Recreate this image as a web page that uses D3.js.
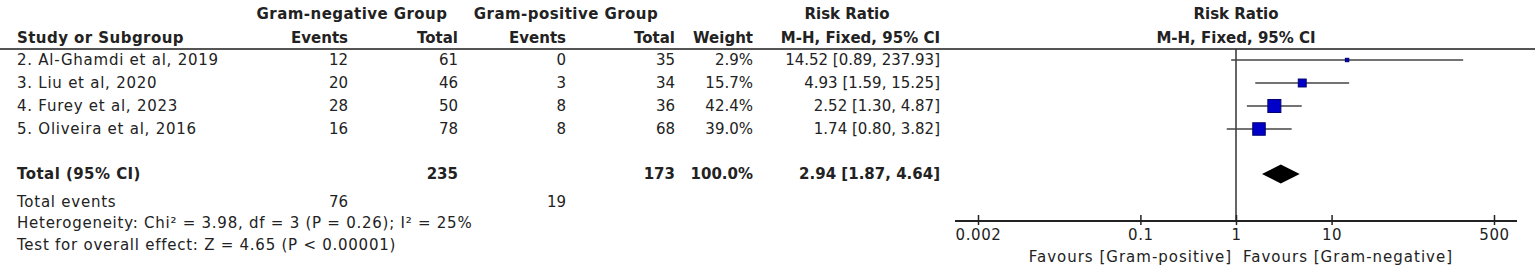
<!DOCTYPE html>
<html>
<head>
<meta charset="utf-8"/>
<title>Forest plot - Gram-negative vs Gram-positive</title>
<script src="https://d3js.org/d3.v7.min.js"></script>
<style>
	body { margin: 0; background: #fff; }
	text { font-family: "DejaVu Sans", Verdana, sans-serif; font-size: 15px; fill: #222; }
	.bold { font-weight: bold; }
	.wide { letter-spacing: 0.75px; }
	.bold.wide { letter-spacing: 0.45px; }
	.fav { letter-spacing: 1px; }
	.tick text { font-size: 15px; letter-spacing: 0.6px; }
</style>
</head>
<body>
<svg width="1535" height="268"></svg>
<script>
// study data
const studies = ["2. Al-Ghamdi et al, 2019", "3. Liu et al, 2020", "4. Furey et al, 2023", "5. Oliveira et al, 2016"];
const negEvents = [12, 20, 28, 16];
const negTotal = [61, 46, 50, 78];
const posEvents = [0, 3, 8, 8];
const posTotal = [35, 34, 36, 68];
const weights = [2.9, 15.7, 42.4, 39.0];
const rr = [14.52, 4.93, 2.52, 1.74];
const rrLow = [0.89, 1.59, 1.30, 0.80];
const rrHigh = [237.93, 15.25, 4.87, 3.82];

const pooled = {rr: 2.94, low: 1.87, high: 4.64, negTotal: 235, posTotal: 173, weight: 100.0, negEvents: 76, posEvents: 19};
const tickValues = [0.002, 0.1, 1, 10, 500];
const heterogeneity = "Heterogeneity: Chi² = 3.98, df = 3 (P = 0.26); I² = 25%";
const overall = "Test for overall effect: Z = 4.65 (P < 0.00001)";

const svg = d3.select("svg");
const fmt = d3.format(".2f");
const ciText = (m, l, h) => `${fmt(m)} [${fmt(l)}, ${fmt(h)}]`;

const x = d3.scaleLog().domain([0.002, 500]).range([978, 1494]);
const y = d3.scaleLinear().domain([0, studies.length - 1]).range([60, 129]);
const yTotal = 174, yEvents = 202, yHet = 223, yTest = 245, yAxis = 221;
const yHead1 = 14, yHead2 = 38, yRule = 49;

// column right edges (table)
const col = {name: 17, negE: 348, negT: 458, posE: 566, posT: 675, w: 753, ci: 940};

function txt(xp, yp, s, anchor, cls) {
	return svg.append("text")
		.attr("x", xp).attr("y", yp).attr("dy", "0.35em")
		.attr("text-anchor", anchor || "start")
		.attr("class", cls || null)
		.text(s);
}

// headers
txt(352, yHead1, "Gram-negative Group", "middle", "bold wide");
txt(566, yHead1, "Gram-positive Group", "middle", "bold wide");
txt(847, yHead1, "Risk Ratio", "middle", "bold");
txt(x(1), yHead1, "Risk Ratio", "middle", "bold");
txt(col.name, yHead2, "Study or Subgroup", "start", "bold wide");
txt(col.negE, yHead2, "Events", "end", "bold");
txt(col.negT, yHead2, "Total", "end", "bold");
txt(col.posE, yHead2, "Events", "end", "bold");
txt(col.posT, yHead2, "Total", "end", "bold");
txt(col.w, yHead2, "Weight", "end", "bold");
txt(col.ci, yHead2, "M-H, Fixed, 95% CI", "end", "bold");
txt(x(1), yHead2, "M-H, Fixed, 95% CI", "middle", "bold");

svg.append("line")
	.attr("x1", 0).attr("x2", 1535).attr("y1", yRule).attr("y2", yRule)
	.attr("stroke", "#555").attr("stroke-width", 2);

// study rows
studies.forEach((s, i) => {
	const yy = y(i);
	txt(col.name, yy, s, "start", "wide");
	txt(col.negE, yy, negEvents[i], "end");
	txt(col.negT, yy, negTotal[i], "end");
	txt(col.posE, yy, posEvents[i], "end");
	txt(col.posT, yy, posTotal[i], "end");
	txt(col.w, yy, weights[i].toFixed(1) + "%", "end");
	txt(col.ci, yy, ciText(rr[i], rrLow[i], rrHigh[i]), "end");
});

// totals
txt(col.name, yTotal, "Total (95% CI)", "start", "bold wide");
txt(col.negT, yTotal, pooled.negTotal, "end", "bold");
txt(col.posT, yTotal, pooled.posTotal, "end", "bold");
txt(col.w, yTotal, pooled.weight.toFixed(1) + "%", "end", "bold");
txt(col.ci, yTotal, ciText(pooled.rr, pooled.low, pooled.high), "end", "bold");
txt(col.name, yEvents, "Total events", "start", "wide");
txt(col.negE, yEvents, pooled.negEvents, "end");
txt(col.posE, yEvents, pooled.posEvents, "end");
txt(col.name, yHet, heterogeneity, "start", "wide");
txt(col.name, yTest, overall, "start", "wide");

// forest plot
const plot = svg.append("g");

plot.append("line")
	.attr("x1", x(1)).attr("x2", x(1)).attr("y1", yRule).attr("y2", yAxis)
	.attr("stroke", "#333").attr("stroke-width", 1.5);

plot.selectAll(".ci").data(studies).enter().append("line")
	.attr("class", "ci")
	.attr("x1", (d, i) => x(rrLow[i])).attr("x2", (d, i) => x(rrHigh[i]))
	.attr("y1", (d, i) => y(i)).attr("y2", (d, i) => y(i))
	.attr("stroke", "#444").attr("stroke-width", 1.5);

const side = w => 2.0 * Math.sqrt(w);
plot.selectAll(".box").data(studies).enter().append("rect")
	.attr("class", "box")
	.attr("x", (d, i) => x(rr[i]) - side(weights[i]) / 2)
	.attr("y", (d, i) => y(i) - side(weights[i]) / 2)
	.attr("width", (d, i) => side(weights[i]))
	.attr("height", (d, i) => side(weights[i]))
	.attr("fill", "#0000c8").attr("stroke", "#000070").attr("stroke-width", 1);

const dh = 9.5;
plot.append("path")
	.attr("d", `M${x(pooled.low)},${yTotal}L${x(pooled.rr)},${yTotal - dh}L${x(pooled.high)},${yTotal}L${x(pooled.rr)},${yTotal + dh}Z`)
	.attr("fill", "#000");

// axis
plot.append("line")
	.attr("x1", x(0.002) - 23).attr("x2", x(500) + 23).attr("y1", yAxis).attr("y2", yAxis)
	.attr("stroke", "#222").attr("stroke-width", 2);

const axis = plot.append("g")
	.attr("transform", `translate(0,${yAxis})`)
	.call(d3.axisBottom(x).tickValues(tickValues).tickFormat(d => String(d)).tickSize(4).tickPadding(4));
axis.select(".domain").remove();
axis.selectAll(".tick line").attr("y1", -6).attr("y2", 4).attr("stroke", "#222").attr("stroke-width", 1.5);
axis.selectAll(".tick text").attr("fill", "#222").attr("font-family", null).attr("font-size", null);

txt(x(1) - 4, 257, "Favours [Gram-positive]", "end", "fav");
txt(x(1) + 7, 257, "Favours [Gram-negative]", "start", "fav");
</script>
</body>
</html>
